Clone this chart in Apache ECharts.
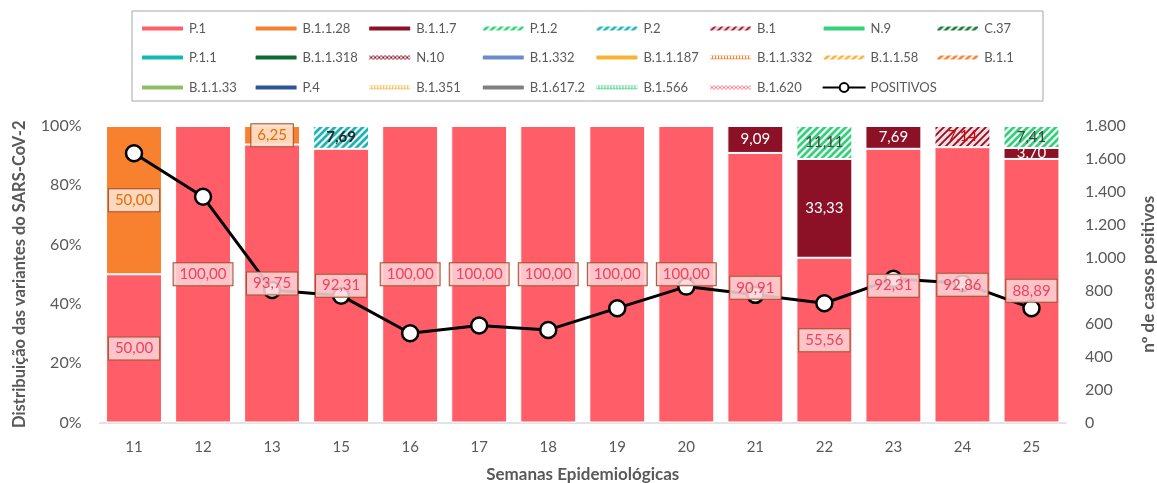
<!DOCTYPE html>
<html>
<head>
<meta charset="utf-8">
<script src="https://cdn.jsdelivr.net/npm/echarts@6/dist/echarts.min.js"></script>
<style>
html,body{margin:0;padding:0;background:#fff;overflow:hidden;}
#chart{width:1157px;height:483px;}
</style>
</head>
<body>
<div id="chart"></div>
<script>
// ---------- DATA ----------
const weeks = ['11','12','13','15','16','17','18','19','20','21','22','23','24','25'];
const variantNames = ['P.1','B.1.1.28','B.1.1.7','P.1.2','P.2','B.1','N.9','C.37',
  'P.1.1','B.1.1.318','N.10','B.1.332','B.1.1.187','B.1.1.332','B.1.1.58','B.1.1',
  'B.1.1.33','P.4','B.1.351','B.1.617.2','B.1.566','B.1.620'];
const valP1    = [50, 100, 93.75, 92.31, 100, 100, 100, 100, 100, 90.91, 55.56, 92.31, 92.86, 88.89];
const valB1128 = [50, 0, 6.25, 0, 0, 0, 0, 0, 0, 0, 0, 0, 0, 0];
const valB117  = [0, 0, 0, 0, 0, 0, 0, 0, 0, 9.09, 33.33, 7.69, 0, 3.70];
const valP12   = [0, 0, 0, 0, 0, 0, 0, 0, 0, 0, 11.11, 0, 0, 7.41];
const valP2    = [0, 0, 0, 7.69, 0, 0, 0, 0, 0, 0, 0, 0, 0, 0];
const valB1    = [0, 0, 0, 0, 0, 0, 0, 0, 0, 0, 0, 0, 7.14, 0];
const positivos = [1635, 1370, 805, 770, 542, 589, 562, 694, 825, 775, 724, 872, 846, 694];
const pctTicks = {min: 0, max: 100, interval: 20};
const casesTicks = {min: 0, max: 1800, interval: 200};

const variantValues = {
  'P.1': valP1, 'B.1.1.28': valB1128, 'B.1.1.7': valB117,
  'P.1.2': valP12, 'P.2': valP2, 'B.1': valB1
};

// ---------- STYLES ----------
const FONT = 'Lato, "Liberation Sans", sans-serif';
function pat(kind, fg, bg, lw) {
  bg = bg || '#ffffff';
  const s = kind === 'diag' ? 7 : (kind === 'check' ? 4 : 6);
  const c = document.createElement('canvas');
  c.width = s; c.height = s;
  const g = c.getContext('2d');
  g.fillStyle = bg; g.fillRect(0, 0, s, s);
  g.fillStyle = fg; g.strokeStyle = fg;
  if (kind === 'diag') {
    g.lineWidth = lw || 2.8;
    g.beginPath();
    g.moveTo(-2, 2); g.lineTo(2, -2);
    g.moveTo(-1, s + 1); g.lineTo(s + 1, -1);
    g.moveTo(s - 2, s + 2); g.lineTo(s + 2, s - 2);
    g.stroke();
  } else if (kind === 'check') {
    g.fillRect(0, 0, 2, 2); g.fillRect(2, 2, 2, 2);
  } else {
    g.fillRect(0, 0, s, 1); g.fillRect(0, s - 2, s, 1);
    g.fillRect(0, 0, 1, s - 1); g.fillRect(3, 1, 1, s - 3);
  }
  return {image: c, repeat: 'repeat'};
}
const colors = {
  'P.1': '#FF5E69', 'B.1.1.28': '#F7812E', 'B.1.1.7': '#8C1026',
  'P.1.2': pat('diag', '#33D17A'), 'P.2': pat('diag', '#1BB5B5'), 'B.1': pat('diag', '#8C1026', '#F6DADD', 1.8),
  'N.9': '#33D17A', 'C.37': pat('diag', '#15753A'),
  'P.1.1': '#14B8B0', 'B.1.1.318': '#0D6B31', 'N.10': pat('check', '#8C1026'),
  'B.1.332': '#6A8CCB', 'B.1.1.187': '#F8B332', 'B.1.1.332': pat('chain', '#F7812E'),
  'B.1.1.58': pat('diag', '#F8B332'), 'B.1.1': pat('diag', '#F7812E'),
  'B.1.1.33': '#8DC064', 'P.4': '#2E5597', 'B.1.351': pat('chain', '#F8B332'),
  'B.1.617.2': '#808080', 'B.1.566': pat('chain', '#33D17A'), 'B.1.620': pat('check', '#FF7F8E')
};
const boxBase = {borderColor: '#A5522E', borderWidth: 1, padding: [4, 6, 3, 6]};
const labelStyles = {
  'P.1': Object.assign({backgroundColor: 'rgba(255,214,218,0.85)', color: '#F0405A'}, boxBase),
  'B.1.1.28': Object.assign({backgroundColor: 'rgba(253,225,205,0.9)', color: '#E36C0A'}, boxBase),
  'B.1.1.7': {color: '#ffffff'},
  'P.1.2': {color: '#404040'},
  'P.2': {color: '#262626', fontWeight: 'bold'},
  'B.1': {color: '#E00000'}
};
const fmtComma = v => v.toFixed(2).replace('.', ',');
const fmtThousands = v => String(v).replace(/\B(?=(\d{3})+(?!\d))/g, '.');

// ---------- SERIES ----------
const series = [];
variantNames.forEach(name => {
  const vals = variantValues[name] || [];
  series.push({
    name: name, type: 'bar', stack: 'v', yAxisIndex: 0, z: 2,
    barCategoryGap: '19%', barGap: '-100%',
    data: vals.map(v => v ? v : '-'),
    itemStyle: {color: colors[name], borderColor: '#ffffff', borderWidth: 1},
    label: {show: false}
  });
});
series.push({
  name: 'POSITIVOS', type: 'line', yAxisIndex: 1, z: 3,
  data: positivos,
  symbol: 'circle', symbolSize: 16,
  lineStyle: {color: '#000000', width: 3},
  itemStyle: {color: '#ffffff', borderColor: '#000000', borderWidth: 2.5}
});
// label overlay series (same data, transparent) so labels sit above the line
Object.keys(variantValues).forEach(name => {
  const vals = variantValues[name];
  series.push({
    name: name + ' ', type: 'bar', stack: 'lbl', yAxisIndex: 0, z: 5, silent: true,
    barCategoryGap: '19%', barGap: '-100%',
    data: vals.map(v => v ? v : '-'),
    itemStyle: {color: 'rgba(0,0,0,0)'},
    label: Object.assign({
      show: true, position: 'inside', fontSize: 15, fontFamily: FONT,
      formatter: p => fmtComma(p.value)
    }, labelStyles[name])
  });
});

// one legend per item, laid out in an 8-column grid
const legendItems = variantNames.concat(['POSITIVOS']);
const legendTops = [22, 51, 81];
const legends = legendItems.map((name, i) => {
  const isLine = name === 'POSITIVOS';
  return {
    data: [name], left: 140 + (i % 8) * 113.6,
    top: legendTops[Math.floor(i / 8)],
    padding: 0, itemWidth: 43, itemHeight: isLine ? 11 : 6, selectedMode: false,
    textStyle: {fontSize: 13, color: '#595959', fontFamily: FONT}
  };
});

const chart = echarts.init(document.getElementById('chart'), null, {renderer: 'canvas', width: 1157, height: 483});
chart.setOption({
  animation: false,
  backgroundColor: '#ffffff',
  textStyle: {fontFamily: FONT},
  graphic: [{type: 'rect', shape: {x: 132, y: 11, width: 911, height: 90},
    style: {fill: 'none', stroke: '#A6A6A6', lineWidth: 1}, silent: true}],
  legend: legends,
  grid: {left: 99.5, right: 91, top: 126, bottom: 60.5, containLabel: false, outerBoundsMode: 'none'},
  xAxis: {
    type: 'category', data: weeks,
    name: 'Semanas Epidemiológicas', nameLocation: 'middle', nameGap: 44,
    nameTextStyle: {fontSize: 17, fontWeight: 'bold', color: '#595959', fontFamily: FONT},
    axisLine: {lineStyle: {color: '#D9D9D9', width: 1.5}},
    axisTick: {show: false},
    axisLabel: {fontSize: 15, color: '#595959', margin: 17, fontFamily: FONT}
  },
  yAxis: [{
    type: 'value', min: pctTicks.min, max: pctTicks.max, interval: pctTicks.interval,
    name: 'Distribuição das variantes do SARS-CoV-2', nameLocation: 'middle', nameGap: 71,
    nameTextStyle: {fontSize: 16.5, fontWeight: 'bold', color: '#595959', fontFamily: FONT},
    splitLine: {show: false}, axisLine: {show: false}, axisTick: {show: false},
    axisLabel: {formatter: '{value}%', fontSize: 16, color: '#595959', margin: 18, fontFamily: FONT}
  }, {
    type: 'value', min: casesTicks.min, max: casesTicks.max, interval: casesTicks.interval,
    name: 'nº de casos positivos', nameLocation: 'middle', nameGap: 74, nameRotate: 90,
    nameTextStyle: {fontSize: 17, fontWeight: 'bold', color: '#595959', fontFamily: FONT},
    splitLine: {show: false}, axisLine: {show: false}, axisTick: {show: false},
    axisLabel: {formatter: v => fmtThousands(v), fontSize: 16, color: '#595959', margin: 19, fontFamily: FONT}
  }],
  series: series
});
</script>
</body>
</html>
